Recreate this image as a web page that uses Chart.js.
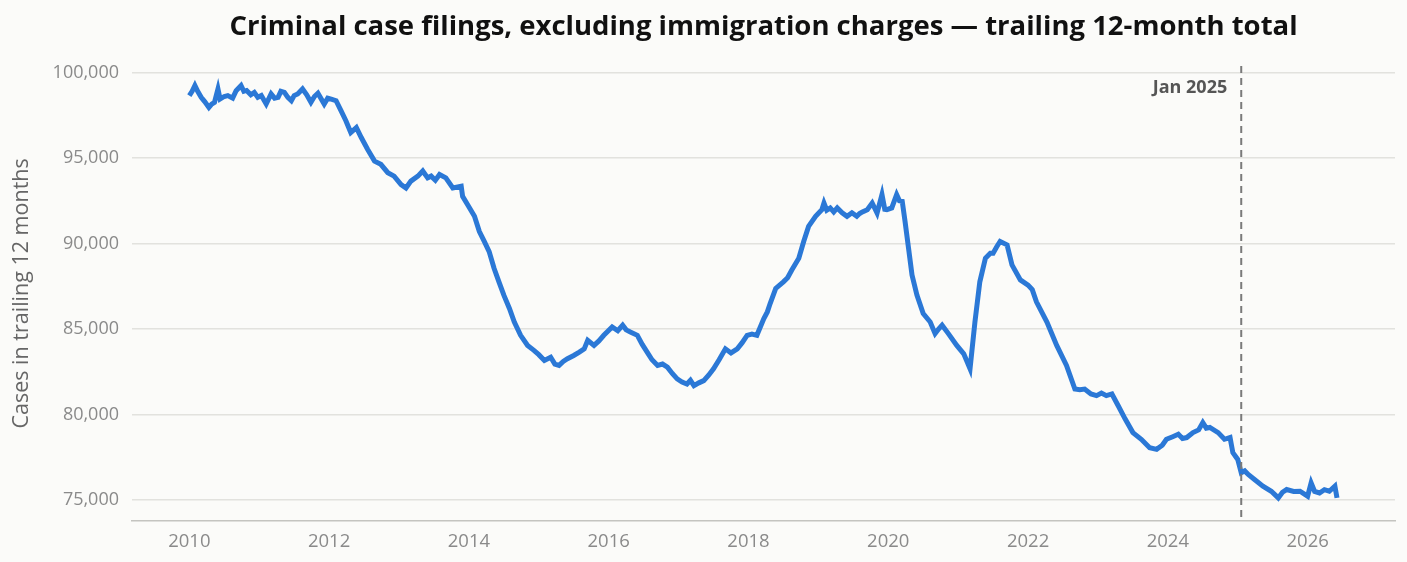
<!DOCTYPE html>
<html lang="en">
<head>
    <meta charset="UTF-8">
    <title>Criminal case filings</title>
    <script src="https://cdn.jsdelivr.net/npm/chart.js"></script>
    <style>
        body, html {
            margin: 0;
            padding: 0;
            background-color: #fbfbf9;
            overflow: hidden;
        }
        #filingsChart {
            display: block;
        }
    </style>
</head>
<body>
<canvas id="filingsChart" width="1407" height="562"></canvas>

<script>
    // Trailing 12-month totals (decimal years)
    const years = [
        2010.00, 2010.04, 2010.08, 2010.12, 2010.17, 2010.22, 2010.28, 2010.32, 2010.36, 2010.41, 2010.44,
        2010.50, 2010.55, 2010.62, 2010.67, 2010.74, 2010.78, 2010.82, 2010.88, 2010.93, 2010.98, 2011.03,
        2011.10, 2011.17, 2011.22, 2011.27, 2011.31, 2011.36, 2011.41, 2011.46, 2011.50, 2011.55, 2011.62,
        2011.68, 2011.74, 2011.79, 2011.84, 2011.93, 2011.98, 2012.03, 2012.10,
        2012.17, 2012.24, 2012.31, 2012.39, 2012.46, 2012.55, 2012.65, 2012.74, 2012.84, 2012.93,
        2013.03, 2013.10, 2013.17, 2013.27, 2013.34, 2013.41, 2013.46, 2013.52, 2013.58, 2013.67,
        2013.77, 2013.89, 2013.91, 2013.98, 2014.08, 2014.15, 2014.22, 2014.29, 2014.36, 2014.43,
        2014.50, 2014.58, 2014.65, 2014.74, 2014.84, 2014.93, 2015.00, 2015.08, 2015.17, 2015.23,
        2015.29, 2015.35, 2015.41, 2015.50, 2015.58, 2015.65, 2015.70, 2015.79, 2015.86, 2015.93,
        2016.05, 2016.13, 2016.20, 2016.25, 2016.31, 2016.41, 2016.48, 2016.55, 2016.62, 2016.70,
        2016.77, 2016.84, 2016.91, 2016.98, 2017.05, 2017.12, 2017.17, 2017.22, 2017.29, 2017.36,
        2017.43, 2017.50, 2017.58, 2017.67, 2017.75, 2017.84, 2017.91, 2017.98, 2018.05, 2018.12,
        2018.22, 2018.27, 2018.31, 2018.39, 2018.50, 2018.56, 2018.62, 2018.72, 2018.79, 2018.86,
        2018.96, 2019.05, 2019.08, 2019.12, 2019.17, 2019.22, 2019.27, 2019.34, 2019.41, 2019.48, 2019.55,
        2019.59, 2019.63, 2019.70, 2019.77, 2019.84, 2019.91, 2019.95, 2019.98, 2020.05, 2020.12, 2020.16,
        2020.20, 2020.24, 2020.29, 2020.34, 2020.41, 2020.50, 2020.60, 2020.67, 2020.72, 2020.77,
        2020.86, 2020.98, 2021.08, 2021.17, 2021.24, 2021.31, 2021.39, 2021.46, 2021.50, 2021.55,
        2021.60, 2021.70, 2021.77, 2021.89, 2022.00, 2022.06, 2022.12, 2022.27, 2022.41, 2022.55,
        2022.67, 2022.74, 2022.81, 2022.90, 2022.98, 2023.05, 2023.12, 2023.20, 2023.29, 2023.39, 2023.50,
        2023.62, 2023.74, 2023.84, 2023.92, 2023.98, 2024.07, 2024.15, 2024.21, 2024.27, 2024.36, 2024.44,
        2024.50, 2024.55, 2024.60, 2024.72, 2024.81, 2024.89, 2024.93, 2025.00, 2025.05, 2025.10, 2025.15,
        2025.24, 2025.36, 2025.48, 2025.58, 2025.64, 2025.70, 2025.80, 2025.89, 2026.00, 2026.05, 2026.10,
        2026.17, 2026.24, 2026.31, 2026.39, 2026.42
    ];
    const filings = [
        98650, 98900, 99240, 98900, 98550, 98300, 97960, 98150, 98250, 99040, 98450,
        98600, 98650, 98500, 98940, 99240, 98900, 98950, 98700, 98840, 98550, 98650,
        98160, 98750, 98500, 98550, 98900, 98840, 98550, 98350, 98650, 98750, 99040,
        98700, 98260, 98600, 98790, 98160, 98500, 98450, 98350,
        97770, 97180, 96490, 96780, 96200, 95510, 94820, 94630, 94140, 93940,
        93450, 93250, 93650, 93940, 94240, 93840, 93940, 93700, 94040, 93840,
        93250, 93350, 92760, 92280, 91590, 90700, 90120, 89530, 88550, 87760,
        86980, 86200, 85410, 84630, 84040, 83750, 83500, 83160, 83350, 82950,
        82870, 83100, 83260, 83450, 83650, 83840, 84340, 84040, 84300, 84630,
        85120, 84900, 85220, 84950, 84820, 84630, 84100, 83650, 83200, 82870,
        82950, 82770, 82400, 82080, 81900, 81780, 82000, 81690, 81850, 81980,
        82300, 82670, 83200, 83840, 83600, 83840, 84200, 84630, 84700, 84630,
        85610, 86000, 86490, 87370, 87760, 88000, 88450, 89140, 90120, 91000,
        91590, 91980, 92370, 91950, 92080, 91850, 92080, 91800, 91590, 91800, 91590,
        91750, 91850, 91980, 92370, 91780, 92860, 92000, 91980, 92080, 92860, 92500,
        92470, 91300, 89730, 88160, 86980, 85900, 85410, 84730, 85000, 85220,
        84730, 84040, 83550, 82670, 85410, 87760, 89140, 89430, 89430, 89800,
        90120, 89920, 88750, 87870, 87570, 87300, 86590, 85410, 84040, 82870,
        81490, 81450, 81490, 81200, 81100, 81250, 81100, 81200, 80510, 79730, 78940,
        78550, 78060, 77960, 78200, 78550, 78700, 78840, 78600, 78650, 78940, 79100,
        79530, 79200, 79240, 78940, 78550, 78650, 77770, 77370, 76590, 76700, 76490,
        76200, 75810, 75510, 75120, 75450, 75610, 75500, 75510, 75220, 76000, 75500,
        75410, 75600, 75510, 75810, 75120
    ];

    const xTickYears = [2010, 2012, 2014, 2016, 2018, 2020, 2022, 2024, 2026];
    const yTickValues = [75000, 80000, 85000, 90000, 95000, 100000];
    const markerYear = 2025.05;
    const markerLabel = 'Jan 2025';

    const FONT = '"Open Sans", "Noto Sans", sans-serif';

    // dashed vertical marker with its label
    const markerPlugin = {
        id: 'marker',
        afterDatasetsDraw(chart) {
            const ctx = chart.ctx;
            const area = chart.chartArea;
            const x = chart.scales.x.getPixelForValue(markerYear);
            ctx.save();
            ctx.strokeStyle = '#7a7a7a';
            ctx.lineWidth = 2;
            ctx.setLineDash([7, 5]);
            ctx.beginPath();
            ctx.moveTo(x, area.top);
            ctx.lineTo(x, area.bottom);
            ctx.stroke();
            ctx.setLineDash([]);
            ctx.fillStyle = '#555555';
            ctx.font = 'bold 18px ' + FONT;
            ctx.textAlign = 'right';
            ctx.textBaseline = 'middle';
            ctx.fillText(markerLabel, x - 14, area.top + 22);
            ctx.restore();
        }
    };

    const ctx = document.getElementById('filingsChart').getContext('2d');
    const filingsChart = new Chart(ctx, {
        type: 'line',
        data: {
            datasets: [{
                data: years.map((yr, i) => ({x: yr, y: filings[i]})),
                borderColor: '#2b78d6',
                borderWidth: 5,
                pointRadius: 0,
                tension: 0,
                fill: false
            }]
        },
        options: {
            responsive: false,
            animation: false,
            layout: {
                padding: {left: 0, right: 12, top: 0, bottom: -1}
            },
            plugins: {
                legend: {display: false},
                tooltip: {enabled: false},
                title: {
                    display: true,
                    fullSize: false,
                    text: 'Criminal case filings, excluding immigration charges \u2014 trailing 12-month total',
                    color: '#111111',
                    font: {family: FONT, size: 27.5, weight: 'bold'},
                    padding: {top: 11, bottom: 22}
                }
            },
            scales: {
                x: {
                    type: 'linear',
                    min: 2009.18,
                    max: 2027.25,
                    afterBuildTicks: (scale) => {
                        scale.ticks = xTickYears.map(v => ({value: v}));
                    },
                    ticks: {
                        color: '#8a8a8a',
                        font: {family: FONT, size: 18.5},
                        padding: 10,
                        maxRotation: 0,
                        callback: (value) => String(value)
                    },
                    grid: {display: false, drawTicks: false},
                    border: {display: true, color: '#c4c4c0', width: 1.5}
                },
                y: {
                    min: 73782,
                    max: 100382,
                    afterBuildTicks: (scale) => {
                        scale.ticks = yTickValues.map(v => ({value: v}));
                    },
                    afterFit: (scale) => {
                        scale.width = 132;
                    },
                    ticks: {
                        color: '#8a8a8a',
                        font: {family: FONT, size: 18},
                        padding: 13,
                        callback: (value) => value.toLocaleString('en-US')
                    },
                    grid: {color: '#e2e2de', lineWidth: 1.5, drawTicks: false},
                    border: {display: false},
                    title: {
                        display: true,
                        text: 'Cases in trailing 12 months',
                        color: '#666666',
                        font: {family: FONT, size: 21.5},
                        padding: {top: 9, bottom: 0}
                    }
                }
            }
        },
        plugins: [markerPlugin]
    });
</script>
</body>
</html>
